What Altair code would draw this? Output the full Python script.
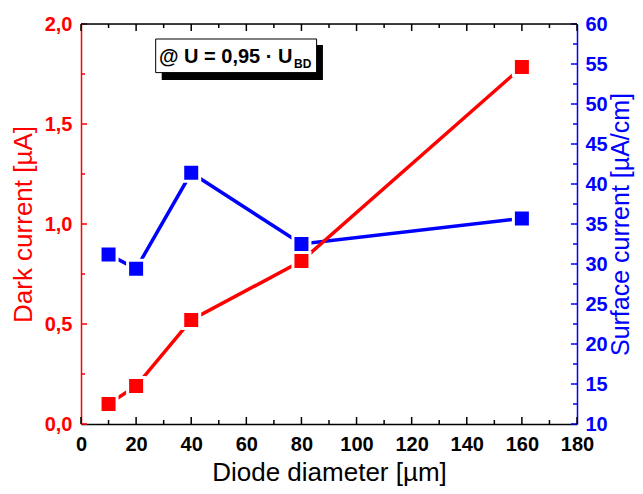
import altair as alt
import pandas as pd

# ---- data ----
diameter = [10, 20, 40, 80, 160]                  # µm
dark_current = [0.10, 0.19, 0.52, 0.815, 1.785]    # µA
surface_current = [31.2, 29.4, 41.4, 32.5, 35.7]   # µA/cm

x_major = [0, 20, 40, 60, 80, 100, 120, 140, 160, 180]
x_minor = [10, 30, 50, 70, 90, 110, 130, 150, 170]
yl_major = [0.0, 0.5, 1.0, 1.5, 2.0]
yl_minor = [0.25, 0.75, 1.25, 1.75]
yr_major = [10, 15, 20, 25, 30, 35, 40, 45, 50, 55, 60]
yr_minor = [12.5, 17.5, 22.5, 27.5, 32.5, 37.5, 42.5, 47.5, 52.5, 57.5]

annot_main = "@ U = 0,95 · U"
annot_sub = "BD"

# annotation box placement (data units of x / left y)
box_x, box_x2, box_y, box_y2 = 27.1, 85.5, 1.925, 1.757
shadow_x, shadow_x2, shadow_y, shadow_y2 = 29.3, 87.8, 1.895, 1.72
text_x, text_y = 28.3, 1.807
sub_x, sub_y = 77.3, 1.782

W, H = 496, 400
RED = "#ff0000"
BLUE = "#0000ff"
FONT = "Liberation Sans"

df = pd.DataFrame({"d": diameter, "dark": dark_current, "surf": surface_current})
one = pd.DataFrame({"a": [0]})

xscale = alt.Scale(domain=[0, 180], nice=False, zero=False)
ylscale = alt.Scale(domain=[0, 2], nice=False, zero=False)
yrscale = alt.Scale(domain=[10, 60], nice=False, zero=False)

xaxis = alt.Axis(
    orient="bottom", values=x_major, format="d", title="Diode diameter [µm]", ticks=False, grid=False,
    domainColor="black", domainWidth=1.5, labelFont=FONT, labelFontSize=20,
    labelFontWeight="bold", labelColor="black", labelPadding=10, labelFlush=False,
    titleFont=FONT, titleFontSize=26, titleFontWeight="normal", titleColor="black",
    titlePadding=5,
)
ylaxis = alt.Axis(
    orient="left", values=yl_major, labelExpr="replace(format(datum.value, '.1f'), '.', ',')",
    title="Dark current [µA]", ticks=False, grid=False, domainColor=RED, domainWidth=1.5,
    labelFont=FONT, labelFontSize=20, labelFontWeight="bold", labelColor=RED,
    labelPadding=9, labelFlush=False, titleFont=FONT, titleFontSize=26,
    titleFontWeight="normal", titleColor=RED, titlePadding=8,
)
yraxis = alt.Axis(
    orient="right", values=yr_major, format="d", title="Surface current [µA/cm]",
    ticks=False, grid=False, domainColor=BLUE, domainWidth=1.5,
    labelFont=FONT, labelFontSize=20, labelFontWeight="bold", labelColor=BLUE,
    labelPadding=8, labelFlush=False, titleFont=FONT, titleFontSize=25,
    titleFontWeight="normal", titleColor=BLUE, titlePadding=1, titleAngle=270,
    titleBaseline="top",
)


def X(field):
    return alt.X(field, scale=xscale, axis=xaxis)


def YL(field):
    return alt.Y(field, scale=ylscale, axis=ylaxis)


def YR(field):
    return alt.Y(field, scale=yrscale, axis=yraxis)


# ---- blue (surface current, right axis) ----
blue_line = alt.Chart(df).mark_line(color=BLUE, strokeWidth=3.5).encode(x=X("d:Q"), y=YR("surf:Q"))
blue_pts = alt.Chart(df).mark_square(
    fill=BLUE, stroke="white", strokeWidth=3, size=289, opacity=1, fillOpacity=1
).encode(x=X("d:Q"), y=YR("surf:Q"))
r_major = alt.Chart(pd.DataFrame({"v": yr_major})).mark_rule(color=BLUE, strokeWidth=1.5).encode(
    y=YR("v:Q"), x=alt.value(W), x2=alt.value(W - 6)
)
r_minor = alt.Chart(pd.DataFrame({"v": yr_minor})).mark_rule(color=BLUE, strokeWidth=1.5).encode(
    y=YR("v:Q"), x=alt.value(W), x2=alt.value(W - 4)
)
blue_group = alt.layer(blue_line, blue_pts, r_major, r_minor)

# ---- red (dark current, left axis) ----
red_line = alt.Chart(df).mark_line(color=RED, strokeWidth=3.5).encode(x=X("d:Q"), y=YL("dark:Q"))
red_pts = alt.Chart(df).mark_square(
    fill=RED, stroke="white", strokeWidth=3, size=289, opacity=1, fillOpacity=1
).encode(x=X("d:Q"), y=YL("dark:Q"))
l_major = alt.Chart(pd.DataFrame({"v": yl_major})).mark_rule(color=RED, strokeWidth=1.5).encode(
    y=YL("v:Q"), x=alt.value(0), x2=alt.value(6)
)
l_minor = alt.Chart(pd.DataFrame({"v": yl_minor})).mark_rule(color=RED, strokeWidth=1.5).encode(
    y=YL("v:Q"), x=alt.value(0), x2=alt.value(4)
)
b_major = alt.Chart(pd.DataFrame({"v": x_major})).mark_rule(color="black", strokeWidth=1.5).encode(
    x=X("v:Q"), y=alt.value(H), y2=alt.value(H - 7)
)
b_minor = alt.Chart(pd.DataFrame({"v": x_minor})).mark_rule(color="black", strokeWidth=1.5).encode(
    x=X("v:Q"), y=alt.value(H), y2=alt.value(H - 4)
)
t_major = alt.Chart(pd.DataFrame({"v": x_major})).mark_rule(color="black", strokeWidth=1.5).encode(
    x=X("v:Q"), y=alt.value(0), y2=alt.value(7)
)
t_minor = alt.Chart(pd.DataFrame({"v": x_minor})).mark_rule(color="black", strokeWidth=1.5).encode(
    x=X("v:Q"), y=alt.value(0), y2=alt.value(4)
)
top_border = alt.Chart(one).mark_rule(color="black", strokeWidth=1.5).encode(
    x=alt.value(0), x2=alt.value(W), y=alt.value(0)
)

shadow = alt.Chart(one).mark_rect(color="black").encode(
    x=alt.XDatum(shadow_x, scale=xscale, axis=xaxis), x2=alt.X2Datum(shadow_x2),
    y=alt.YDatum(shadow_y, scale=ylscale, axis=ylaxis), y2=alt.Y2Datum(shadow_y2),
)
box = alt.Chart(one).mark_rect(fill="white", stroke="black", strokeWidth=1).encode(
    x=alt.XDatum(box_x, scale=xscale, axis=xaxis), x2=alt.X2Datum(box_x2),
    y=alt.YDatum(box_y, scale=ylscale, axis=ylaxis), y2=alt.Y2Datum(box_y2),
)
txt = alt.Chart(one).mark_text(
    align="left", baseline="alphabetic", font=FONT, fontSize=20, fontWeight="bold", color="black"
).encode(
    x=alt.XDatum(text_x, scale=xscale, axis=xaxis),
    y=alt.YDatum(text_y, scale=ylscale, axis=ylaxis),
    text=alt.value(annot_main),
)
sub = alt.Chart(one).mark_text(
    align="left", baseline="alphabetic", font=FONT, fontSize=12, fontWeight="bold", color="black"
).encode(
    x=alt.XDatum(sub_x, scale=xscale, axis=xaxis),
    y=alt.YDatum(sub_y, scale=ylscale, axis=ylaxis),
    text=alt.value(annot_sub),
)

red_group = alt.layer(
    red_line, red_pts, l_major, l_minor, b_major, b_minor, t_major, t_minor, top_border,
    shadow, box, txt, sub,
)

chart = (
    alt.layer(blue_group, red_group)
    .resolve_scale(y="independent")
    .properties(
        width=W, height=H,
        autosize=alt.AutoSizeParams(type="none"),
        padding={"left": 73, "top": 16, "right": 58, "bottom": 62},
    )
    .configure_view(stroke=None)
    .configure(background="white")
)

chart.save("out.html", embed_options={"renderer": "svg", "actions": False})
